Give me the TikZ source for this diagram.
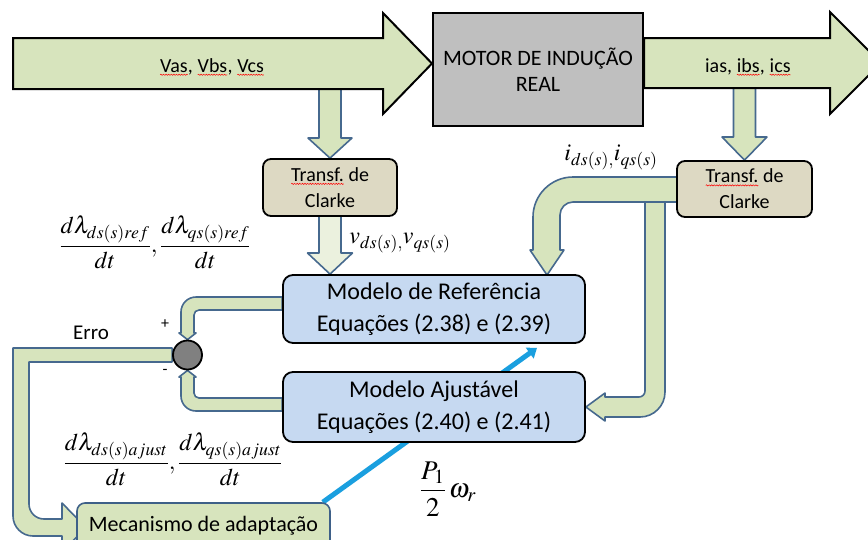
\documentclass[tikz,border=0pt]{standalone}
\usepackage{amsmath}
\usepackage{mathptmx}
\usepackage[no-math]{fontspec}
\setmainfont{Carlito}
\usetikzlibrary{calc,arrows.meta,backgrounds,decorations.pathmorphing}

\definecolor{bandgreen}{HTML}{D7E4BD}
\definecolor{palegreen}{HTML}{EBF1DE}
\definecolor{bandedge}{HTML}{46698E}
\definecolor{modelblue}{HTML}{C6D9F1}
\definecolor{clarketan}{HTML}{DDD9C3}
\definecolor{motorgray}{HTML}{BFBFBF}
\definecolor{sumgray}{HTML}{808080}
\definecolor{mecedge}{HTML}{3E6088}
\definecolor{omegablue}{HTML}{1A9FDF}

% word with a red wavy underline
\newcommand\squig[1]{\tikz[baseline=(sq.base)]{\node[inner sep=0pt,outer sep=0pt,minimum width=0pt,minimum height=0pt,draw=none,fill=none,sharp corners,anchor=center](sq){#1};\draw[sharp corners,red,line width=0.5pt,decorate,decoration={snake,amplitude=0.6pt,segment length=2.6pt}]([yshift=-2.5pt]sq.base west)--([yshift=-2.5pt]sq.base east);}}

\begin{document}
\begin{tikzpicture}[x=1pt,y=-1pt,
  bigarrow/.style={draw=black,line width=2pt,fill=bandgreen,line join=miter},
  band/.style={draw=bandedge,line width=1.6pt,fill=bandgreen,line join=round},
  motorbox/.style={draw=black,line width=2pt,fill=motorgray,align=center,
    font=\fontsize{22}{26}\selectfont},
  clarkebox/.style={draw=black,line width=1.8pt,fill=clarketan,rounded corners=8pt,
    align=center,inner sep=0pt,font=\fontsize{20}{26}\selectfont},
  modelbox/.style={draw=black,line width=1.8pt,fill=modelblue,rounded corners=10pt,
    align=center,inner sep=0pt,font=\fontsize{24}{32}\selectfont},
  mecbox/.style={draw=mecedge,line width=1.6pt,fill=bandgreen,rounded corners=8pt,
    inner sep=0pt,font=\fontsize{22}{26}\selectfont},
  lbl/.style={inner sep=0pt,font=\fontsize{20}{24}\selectfont},
  mlbl/.style={inner sep=0pt,font=\fontsize{24}{28}\selectfont}]
\useasboundingbox (0,0) rectangle (868,539);
\clip (0,0) rectangle (868,539);

% blocks
\node[motorbox,minimum width=210pt,minimum height=113pt] (motor) at (538,69.5) {MOTOR DE INDUÇÃO\\REAL};
\node[clarkebox,minimum width=134pt,minimum height=57pt] (cl1) at (330,187.5) {\squig{Transf.} de\\Clarke};
\node[clarkebox,minimum width=135pt,minimum height=56pt] (cl2) at (744.5,189) {\squig{Transf.} de\\Clarke};
\node[modelbox,minimum width=302pt,minimum height=68pt] (ref) at (434,309) {Modelo de Referência\\Equações (2.38) e (2.39)};
\node[modelbox,minimum width=302pt,minimum height=70pt] (adj) at (434,407) {Modelo Ajustável\\Equações (2.40) e (2.41)};
\node[circle,draw=black,line width=1.8pt,fill=sumgray,minimum size=29pt,inner sep=0pt] (sum) at (187.5,355) {};
\node[mecbox,minimum width=253pt,minimum height=46pt] (mec) at (203.5,526) {Mecanismo de adaptação};

% connectors, behind the blocks
\begin{scope}[on background layer]
  \path (0,63.5) coordinate (hmid);
  % taps from the supply and current arrows into the Clarke blocks
  \draw[band] (319,89) -- (319,138) -- (308,138) -- (cl1.north) -- (352,138) -- (341,138) -- (341,89) -- cycle;
  \draw[band] (733.5,88) -- (733.5,137) -- (722,137) -- (cl2.north) -- (767,137) -- (755.5,137) -- (755.5,88) -- cycle;
  % supply voltages into the motor, currents out of it
  \draw[bigarrow] (13,38) -- (383,38) -- (383,13) -- (motor.west |- hmid) -- (383,114) -- (383,89) -- (13,89) -- cycle;
  \draw[bigarrow] (motor.east |- 0,38) -- (830,38) -- (830,12) -- (881,63) -- (830,114) -- (830,88) -- (motor.east |- 0,88) -- cycle;
  % v_ds, v_qs into the reference model
  \draw[band,fill=palegreen] (319,210) -- (319,253) -- (307.5,253) -- (cl1.south |- ref.north) -- (352.5,253) -- (341,253) -- (341,210) -- cycle;
  % currents into the adjustable model
  \draw[band] (645,198) -- (665,198) -- (665,392) .. controls (665,405.8) and (653.8,417) .. (640,417)
    -- (605,417) -- (605,421) -- (adj.east) -- (605,393) -- (605,397) -- (639,397)
    .. controls (642.3,397) and (645,394.3) .. (645,391) -- cycle;
  % currents into the reference model
  \draw[band] (680,177) -- (573,177) .. controls (551,177) and (533,195) .. (533,217) -- (533,250)
    -- (530,250) -- (547,275) -- (564,250) -- (560,250) -- (560,215)
    .. controls (560,207.8) and (565.8,202) .. (573,202) -- (680,202) -- cycle;
  % model outputs into the comparison
  \draw[band] (ref.west |- 0,297) -- (196,297) .. controls (187.7,297) and (181,303.7) .. (181,312) -- (181,333)
    -- (179,333) -- (sum.north) -- (196,333) -- (194,333) -- (194,315)
    .. controls (194,312.2) and (196.2,310) .. (199,310) -- (ref.west |- 0,310) -- cycle;
  \draw[band] (adj.west |- 0,411) -- (196,411) .. controls (187.7,411) and (181,404.3) .. (181,396) -- (181,377)
    -- (179,377) -- (sum.south) -- (196,377) -- (194,377) -- (194,393)
    .. controls (194,395.8) and (196.2,398) .. (199,398) -- (adj.west |- 0,398) -- cycle;
  % error into the adaptation mechanism
  \draw[band] (sum.west |- 0,348) -- (13,348) -- (13,516) .. controls (13,527) and (22,536) .. (33,536)
    -- (62,536) -- (62,552) -- (86,527.5) -- (62,503) -- (62,519) -- (44,519)
    .. controls (35.7,519) and (29,512.3) .. (29,504) -- (29,362) -- (sum.west |- 0,362) -- cycle;
  % estimated speed back to the models
  \draw[line width=5pt,omegablue,-{Triangle[length=9pt,width=13pt]}]
    ($(mec.north east)+(-8,0)$) -- ($(ref.south)+(103,4)$);
\end{scope}

% labels
\node[lbl] (vabc) at (212,67) {\squig{Vas}, \squig{Vbs}, \squig{Vcs}};
\node[lbl] (iabc) at (748,67) {ias, \squig{ibs}, \squig{ics}};
\node[lbl,font=\fontsize{21}{24}\selectfont] (erro) at (91,333) {Erro};
\node[inner sep=0pt,font=\fontsize{16}{18}\selectfont] (plus) at (165,324) {+};
\node[inner sep=0pt,font=\fontsize{16}{18}\selectfont] (minus) at (165,372) {-};
\node[mlbl] (vdq) at (400,243) {$v_{ds(s),}v_{qs(s)}$};
\node[mlbl] (idq) at (611,157) {$i_{ds(s),}i_{qs(s)}$};
\node[mlbl] (dref) at (155,242) {$\dfrac{d\lambda_{ds(s)ref}}{dt},\dfrac{d\lambda_{qs(s)ref}}{dt}$};
\node[mlbl] (dadj) at (173,459) {$\dfrac{d\lambda_{ds(s)ajust}}{dt},\dfrac{d\lambda_{qs(s)ajust}}{dt}$};
\node[inner sep=0pt,font=\fontsize{27}{30}\selectfont] (wr) at (448,489) {$\dfrac{P_1}{2}\,\omega_r$};
\end{tikzpicture}
\end{document}
